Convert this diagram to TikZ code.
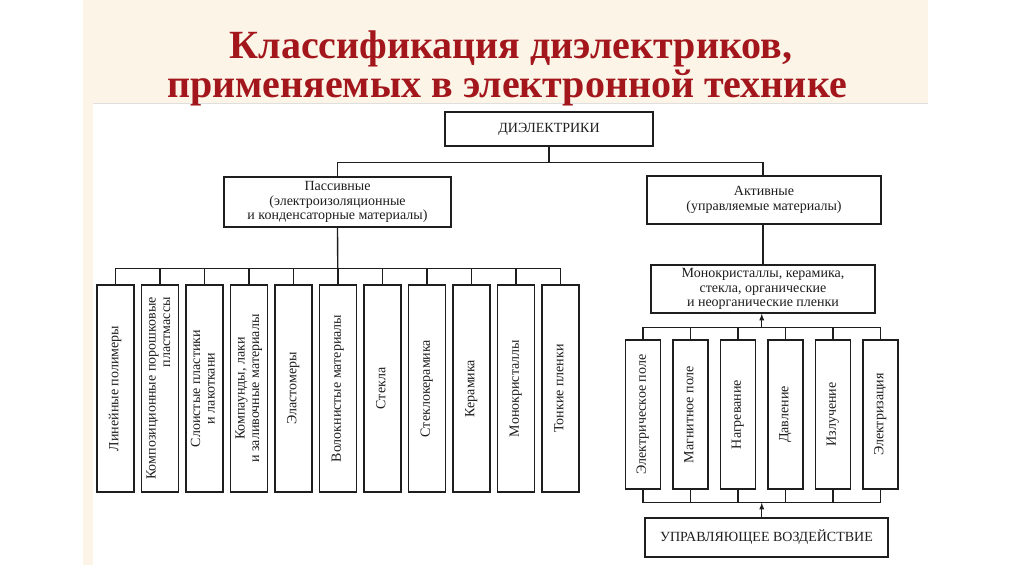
\documentclass[tikz,border=0pt]{standalone}
\usepackage{fontspec}
\setmainfont{Liberation Serif}
\usepackage{graphicx}
\usetikzlibrary{arrows,shapes,calc}
\definecolor{titlered}{RGB}{163,22,28}
\definecolor{paper}{RGB}{251,244,231}
\definecolor{ink}{RGB}{30,30,30}
\def\passtep{44.5}
\def\actstep{47.5}
\newcommand{\vertlabel}[1]{\rotatebox{90}{\begin{tabular}{@{}c@{}}#1\end{tabular}}}
\tikzset{
	every node/.style={
		font=\fontsize{14}{14.5}\selectfont,
		text=ink
	},
	box/.style={
		shape=rectangle,
		draw=ink,
		line width=1.3pt,
		inner sep=0pt,
		align=center
	},
	pbox/.style={
		box,
		minimum width=37pt,
		minimum height=207pt
	},
	abox/.style={
		box,
		minimum width=35pt,
		minimum height=149pt
	},
	headline/.style={
		font=\fontsize{40}{39}\selectfont\bfseries,
		text=titlered,
		anchor=base
	}
}

\begin{document}
\begin{tikzpicture}
	[x=1pt, y=-1pt, line width=1.3pt, draw=ink]
	\useasboundingbox (0,0) rectangle (1024,574);
	\fill[paper] (83,0) rectangle (928,565);
	\fill[white] (93,103) rectangle (1024,574);
	\draw[gray!25, line width=1.5pt] (93,103.5) -- (928,103.5);
	
	\node[headline] (t1) at (511,58) {Классификация диэлектриков,};
	\node[headline] (t2) at (507,97) {применяемых в электронной технике};
	
	\node[box, minimum width=208pt, minimum height=34pt] (diel) at (549,129) {ДИЭЛЕКТРИКИ};
	\node[box, minimum width=227pt, minimum height=50pt] (passive) at (337.5,202)
		{Пассивные\\(электроизоляционные\\и конденсаторные материалы)};
	\node[box, minimum width=234pt, minimum height=48pt] (active) at (764,200)
		{Активные\\(управляемые материалы)};
	\node[box, minimum width=224pt, minimum height=48pt] (mono) at (763,289)
		{Монокристаллы, керамика,\\стекла, органические\\и неорганические пленки};
	\node[box, minimum width=243pt, minimum height=39pt] (control) at (766.5,537.5)
		{УПРАВЛЯЮЩЕЕ ВОЗДЕЙСТВИЕ};
	
	\foreach \i/\txt in {1/{Линейные полимеры},
		2/{Композиционные порошковые\\\hfill пластмассы},
		3/{Слоистые пластики\\и лакоткани},
		4/{Компаунды, лаки\\и заливочные материалы},
		5/{Эластомеры}, 6/{Волокнистые материалы}, 7/{Стекла},
		8/{Стеклокерамика}, 9/{Керамика}, 10/{Монокристаллы}, 11/{Тонкие пленки}}
	\node[pbox] (P-\i) at ({115.5+\passtep*(\i-1)},388.5) {\vertlabel{\txt}};
	
	\foreach \i/\txt in {1/{Электрическое поле}, 2/{Магнитное поле}, 3/{Нагревание},
		4/{Давление}, 5/{Излучение}, 6/{Электризация}}
	\node[abox] (A-\i) at ({643+\actstep*(\i-1)},414.5) {\vertlabel{\txt}};
	
	\coordinate (j0) at ($(diel.south)+(0,16)$);
	\draw (diel) -- (j0);
	\draw (passive) |- (j0) -| (mono |- active.north);
	\draw (passive) -- (P-6);
	\draw (P-1.north) -- ++(0,-16) -| (P-11.north);
	\foreach \i in {2,...,10}
	\draw (P-\i.north) -- ++(0,-16);
	
	\draw (mono |- active.south) -- (mono);
	\draw (A-1.north) -- ++(0,-12) -| (A-6.north);
	\draw (A-1.south) -- ++(0,13) -| (A-6.south);
	\foreach \i in {2,...,5}
	{
		\draw (A-\i.north) -- ++(0,-12);
		\draw (A-\i.south) -- ++(0,13);
	}
	\coordinate (up) at ($(A-3.north)!0.5!(A-4.north)+(0,-12)$);
	\coordinate (down) at ($(A-3.south)!0.5!(A-4.south)+(0,13)$);
	\draw[-latex] (up) -- (up |- mono.south);
	\draw[-latex] (control.north -| down) -- (down);
\end{tikzpicture}
\end{document}
